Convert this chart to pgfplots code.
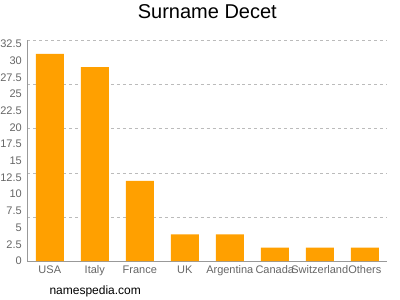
\documentclass[border=0pt]{standalone}
\usepackage{pgfplots}
\pgfplotsset{compat=1.18}
\usepackage{fontspec}
\setmainfont{Liberation Sans}
\definecolor{barorange}{HTML}{FFA000}
\definecolor{tickgray}{HTML}{666666}
\definecolor{axisgray}{HTML}{999999}
\definecolor{gridgray}{HTML}{BBBBBB}
\begin{document}
\begin{tikzpicture}
\path[use as bounding box] (-27.3bp,-39bp) rectangle (372.7bp,261bp);
\begin{axis}[
  at={(0,0)}, anchor=south west,
  scale only axis,
  width=360bp, height=220.5bp,
  xmin=-0.5, xmax=7.5, ymin=0, ymax=33,
  axis x line=bottom, axis y line=left,
  axis line style={-, draw=axisgray, line width=0.8pt},
  xtick=data,
  xticklabels={USA,Italy,France,UK,Argentina,Canada,Switzerland,Others},
  ytick={6.6,13.2,19.8,26.4,33},
  yticklabels={},
  ymajorgrids,
  major grid style={dashed, draw=gridgray, line width=0.6pt},
  ytick style={draw=none},
  xtick style={draw=none},
  extra y ticks={0,2.5,5,7.5,10,12.5,15,17.5,20,22.5,25,27.5,30,32.5},
  extra y tick labels={0,2.5,5,7.5,10,12.5,15,17.5,20,22.5,25,27.5,30,32.5},
  extra y tick style={grid=none, tick align=outside, major tick length=3bp, tick style={draw=axisgray}},
  ticklabel style={font=\fontsize{11bp}{13bp}\selectfont, text=tickgray},
  yticklabel style={xshift=1bp},
  xticklabel style={yshift=1bp},
  clip=false,
]
\addplot[ybar, bar width=28bp, fill=barorange, draw=none] coordinates {
  (0,31) (1,29) (2,12) (3,4) (4,4) (5,2) (6,2) (7,2)
};
\end{axis}
\node[anchor=base, font=\fontsize{20bp}{23bp}\selectfont] at (180bp,242bp) {Surname Decet};
\node[anchor=base west, inner sep=0pt, font=\fontsize{12bp}{14bp}\selectfont] at (22bp,-33.5bp) {namespedia.com};
\end{tikzpicture}
\end{document}
